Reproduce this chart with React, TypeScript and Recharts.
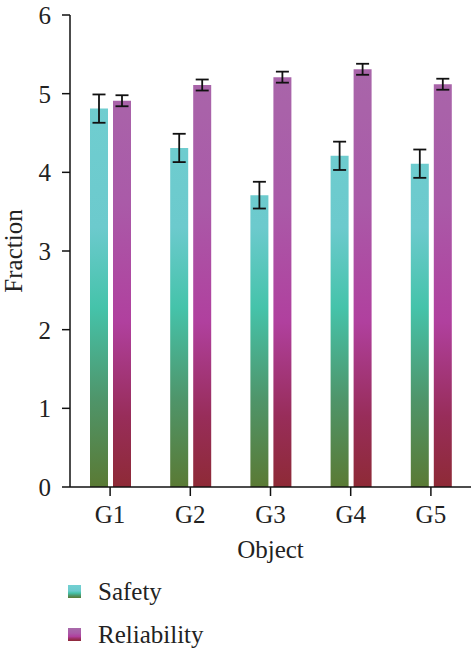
import React from "react";
import {
  ComposedChart,
  Bar,
  XAxis,
  YAxis,
  ErrorBar,
  Legend,
} from "recharts";

const groups = ["G1", "G2", "G3", "G4", "G5"];
const safety = [4.81, 4.31, 3.71, 4.21, 4.11];
const safetyErr = [0.18, 0.18, 0.17, 0.18, 0.18];
const reliability = [4.91, 5.11, 5.21, 5.31, 5.12];
const reliabilityErr = [0.07, 0.07, 0.07, 0.07, 0.07];
const yTicks = [0, 1, 2, 3, 4, 5, 6];

const data = groups.map((g, i) => ({
  group: g,
  safety: safety[i],
  safetyErr: safetyErr[i],
  reliability: reliability[i],
  reliabilityErr: reliabilityErr[i],
}));

const W = 474;
const H = 650;
const margin = { top: 15, right: 3, bottom: 3, left: 0 };
const xAxisHeight = 80;
const legendHeight = 80;
const plotTop = margin.top;
const plotBottom = H - margin.bottom - xAxisHeight - legendHeight;

const FONT = "'Liberation Serif', 'Times New Roman', serif";
const FS = 25;

const safetyStops = [
  { offset: "0%", color: "#72d0d2" },
  { offset: "45%", color: "#6ccacd" },
  { offset: "62%", color: "#45c3aa" },
  { offset: "82%", color: "#4f9468" },
  { offset: "100%", color: "#5a7a34" },
];
const reliabilityStops = [
  { offset: "0%", color: "#a86aaa" },
  { offset: "40%", color: "#aa5aa8" },
  { offset: "65%", color: "#b0409e" },
  { offset: "85%", color: "#982d5a" },
  { offset: "100%", color: "#8e2a36" },
];

function Swatch({ id, stops }: { id: string; stops: { offset: string; color: string }[] }) {
  return (
    <svg width={13} height={13} style={{ display: "block" }}>
      <defs>
        <linearGradient id={id} x1="0" y1="0" x2="0" y2="1">
          {stops.map((s) => (
            <stop key={s.offset} offset={s.offset} stopColor={s.color} />
          ))}
        </linearGradient>
      </defs>
      <rect width={13} height={13} fill={`url(#${id})`} />
    </svg>
  );
}

function LegendBox() {
  const items = [
    { name: "Safety", id: "lgSafety", stops: safetyStops },
    { name: "Reliability", id: "lgRel", stops: reliabilityStops },
  ];
  return (
    <div style={{ paddingLeft: 68, paddingTop: 3, fontFamily: FONT, fontSize: FS, color: "#222" }}>
      {items.map((it) => (
        <div key={it.name} style={{ display: "flex", alignItems: "center", height: 43 }}>
          <Swatch id={it.id} stops={it.stops} />
          <span style={{ marginLeft: 17 }}>{it.name}</span>
        </div>
      ))}
    </div>
  );
}

export default function App() {
  return (
    <div style={{ position: "absolute", left: 0, top: 0, width: W, height: H, background: "#fff" }}>
      <ComposedChart width={W} height={H} data={data} margin={margin} barGap={5}>
        <defs>
          <linearGradient id="gSafety" gradientUnits="userSpaceOnUse" x1="0" y1={plotTop} x2="0" y2={plotBottom}>
            {safetyStops.map((s) => (
              <stop key={s.offset} offset={s.offset} stopColor={s.color} />
            ))}
          </linearGradient>
          <linearGradient id="gRel" gradientUnits="userSpaceOnUse" x1="0" y1={plotTop} x2="0" y2={plotBottom}>
            {reliabilityStops.map((s) => (
              <stop key={s.offset} offset={s.offset} stopColor={s.color} />
            ))}
          </linearGradient>
        </defs>

        <XAxis
          dataKey="group"
          height={xAxisHeight}
          stroke="#111"
          strokeWidth={1.5}
          tickSize={9}
          tickMargin={9}
          tick={{ fill: "#222", fontSize: FS, fontFamily: FONT }}
          label={{
            value: "Object",
            position: "insideTop",
            offset: 53,
            fill: "#222",
            fontSize: FS,
            fontFamily: FONT,
          }}
        />
        <YAxis
          width={70}
          domain={[0, 6]}
          ticks={yTicks}
          stroke="#111"
          strokeWidth={1.5}
          tickSize={8}
          tickMargin={11}
          tick={{ fill: "#222", fontSize: FS, fontFamily: FONT }}
          label={{
            value: "Fraction",
            angle: -90,
            position: "insideLeft",
            offset: 13,
            fill: "#222",
            fontSize: FS,
            fontFamily: FONT,
            style: { textAnchor: "middle" },
          }}
        />

        <Legend
          verticalAlign="bottom"
          align="left"
          layout="horizontal"
          height={legendHeight}
          content={() => <LegendBox />}
        />

        <Bar dataKey="safety" name="Safety" barSize={18} fill="url(#gSafety)" isAnimationActive={false}>
          <ErrorBar dataKey="safetyErr" width={6.5} stroke="#111" strokeWidth={1.8} />
        </Bar>
        <Bar dataKey="reliability" name="Reliability" barSize={18} fill="url(#gRel)" isAnimationActive={false}>
          <ErrorBar dataKey="reliabilityErr" width={6.5} stroke="#111" strokeWidth={1.8} />
        </Bar>
      </ComposedChart>
    </div>
  );
}
